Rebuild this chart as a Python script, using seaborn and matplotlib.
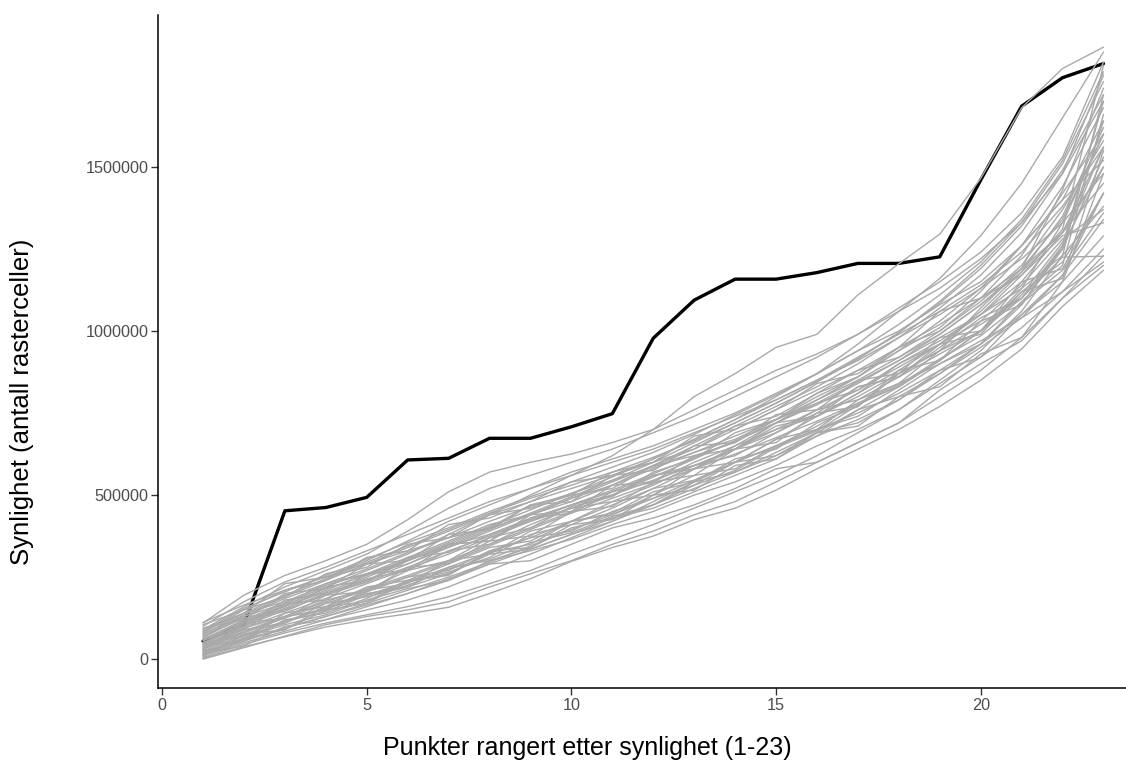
import numpy as np
import pandas as pd
import seaborn as sns
from matplotlib import pyplot as plt
from matplotlib.ticker import FuncFormatter

# rank of the 23 points
ranks = list(range(1, 24))

# observed visibility (black line)
observed = [55000, 105000, 452000, 462000, 493000, 607000, 612000, 673000, 673000, 708000,
            748000, 978000, 1094000, 1158000, 1158000, 1178000, 1206000, 1206000, 1226000,
            1460000, 1685000, 1772000, 1815000]

# simulated visibility, thousands of cells (grey lines)
sim_a = [110, 195, 255, 300, 350, 425, 510, 570, 600, 625, 660, 700, 760, 820, 880, 930, 990, 1060, 1130, 1220, 1330, 1480, 1700]
sim_b = [2, 38, 68, 98, 120, 138, 158, 200, 245, 298, 340, 375, 425, 460, 515, 580, 640, 700, 770, 850, 945, 1075, 1185]
sim_c = [60, 120, 170, 220, 270, 320, 380, 440, 500, 560, 620, 700, 800, 870, 950, 990, 1110, 1205, 1295, 1465, 1680, 1800, 1865]
sim_d = [40, 95, 140, 185, 230, 275, 320, 370, 420, 460, 500, 545, 590, 640, 700, 760, 820, 890, 960, 1050, 1150, 1300, 1560]
sim_e = [20, 70, 130, 150, 210, 230, 300, 320, 390, 420, 480, 500, 580, 600, 670, 700, 790, 840, 940, 1000, 1120, 1210, 1420]
sim_f = [80, 150, 210, 250, 300, 360, 420, 470, 520, 570, 610, 650, 700, 750, 810, 870, 940, 1000, 1080, 1150, 1260, 1400, 1640]
sim_g = [10, 50, 85, 120, 150, 180, 220, 270, 320, 370, 420, 480, 540, 600, 670, 740, 810, 880, 960, 1060, 1180, 1350, 1620]
sim_h = [50, 110, 160, 210, 260, 300, 350, 400, 440, 480, 530, 590, 650, 710, 770, 830, 900, 980, 1070, 1170, 1300, 1480, 1780]
sim_i = [30, 80, 125, 170, 210, 250, 295, 345, 395, 445, 490, 535, 580, 625, 675, 725, 780, 840, 900, 970, 1040, 1120, 1210]
sim_j = [70, 135, 190, 240, 290, 340, 390, 440, 480, 520, 560, 610, 670, 730, 790, 850, 920, 990, 1060, 1140, 1240, 1380, 1560]
sim_k = [15, 60, 90, 150, 170, 235, 260, 325, 350, 420, 445, 510, 540, 610, 640, 720, 770, 870, 940, 1070, 1190, 1430, 1740]
sim_l = [45, 105, 155, 200, 240, 290, 340, 390, 440, 490, 540, 590, 640, 700, 760, 820, 880, 950, 1020, 1100, 1190, 1300, 1450]
sim_m = [90, 160, 220, 270, 320, 390, 460, 520, 560, 600, 640, 690, 740, 800, 860, 920, 990, 1070, 1150, 1240, 1360, 1530, 1820]
sim_n = [5, 45, 80, 110, 135, 160, 190, 230, 270, 320, 365, 410, 460, 510, 560, 620, 690, 760, 840, 920, 1010, 1120, 1250]
sim_o = [35, 95, 130, 180, 210, 270, 300, 370, 400, 465, 495, 570, 610, 690, 730, 810, 860, 950, 1000, 1100, 1170, 1290, 1330]
sim_p = [25, 75, 115, 155, 195, 235, 280, 325, 370, 420, 470, 520, 580, 650, 720, 790, 860, 940, 1030, 1130, 1260, 1440, 1680]
sim_q = [100, 175, 235, 280, 330, 380, 430, 480, 520, 560, 600, 640, 690, 740, 790, 850, 910, 980, 1050, 1130, 1220, 1330, 1480]
sim_r = [55, 115, 165, 215, 255, 305, 355, 405, 455, 505, 555, 610, 670, 730, 800, 870, 960, 1060, 1160, 1290, 1450, 1650, 1850]
sim_s = [12, 55, 95, 130, 170, 210, 250, 295, 345, 395, 440, 490, 545, 600, 650, 700, 750, 810, 880, 960, 1050, 1170, 1340]
sim_t = [65, 130, 185, 230, 275, 325, 370, 420, 465, 505, 545, 585, 630, 680, 730, 790, 850, 920, 990, 1080, 1190, 1340, 1600]
sim_u = [40, 100, 150, 195, 235, 280, 330, 375, 425, 470, 515, 565, 615, 665, 720, 775, 840, 910, 990, 1080, 1180, 1300, 1500]
sim_v = [85, 155, 205, 255, 305, 355, 400, 450, 495, 540, 585, 630, 685, 745, 805, 870, 940, 1020, 1110, 1210, 1340, 1520, 1790]
sim_w = [22, 60, 115, 145, 195, 225, 275, 305, 355, 385, 435, 470, 530, 575, 645, 695, 775, 835, 915, 985, 1085, 1185, 1360]
sim_x = [48, 112, 162, 205, 250, 300, 345, 395, 445, 495, 545, 600, 660, 720, 780, 845, 915, 995, 1090, 1200, 1330, 1510, 1760]
sim_y = [30, 85, 130, 175, 215, 255, 300, 350, 400, 450, 500, 555, 610, 665, 720, 780, 845, 910, 980, 1050, 1130, 1230, 1380]
sim_z = [75, 140, 195, 245, 295, 345, 395, 445, 490, 530, 570, 615, 665, 720, 780, 845, 915, 995, 1085, 1190, 1320, 1490, 1720]
sim_aa = [95, 120, 200, 215, 290, 300, 380, 395, 470, 480, 560, 575, 650, 660, 745, 760, 850, 870, 980, 1000, 1150, 1190, 1420]
sim_ab = [8, 75, 90, 160, 175, 240, 255, 330, 340, 410, 425, 500, 515, 590, 610, 690, 710, 800, 830, 930, 980, 1150, 1290]
sim_ac = [60, 90, 170, 180, 260, 270, 350, 360, 440, 450, 530, 540, 620, 640, 720, 740, 830, 860, 960, 990, 1120, 1160, 1550]
sim_ad = [28, 110, 125, 195, 205, 280, 290, 360, 375, 450, 465, 540, 560, 640, 660, 750, 770, 880, 910, 1030, 1080, 1260, 1700]
sim_ae = [105, 150, 190, 260, 290, 330, 410, 430, 480, 540, 560, 600, 680, 700, 760, 840, 870, 950, 1060, 1100, 1230, 1420, 1600]
sim_af = [18, 40, 100, 120, 160, 200, 240, 290, 300, 350, 400, 430, 470, 520, 580, 600, 660, 720, 820, 900, 970, 1100, 1230]
sim_ag = [70, 125, 150, 220, 240, 300, 350, 360, 430, 470, 500, 560, 580, 640, 690, 750, 830, 860, 950, 1040, 1100, 1260, 1500]
sim_ah = [38, 60, 140, 160, 220, 240, 290, 340, 360, 420, 440, 500, 560, 580, 650, 700, 740, 820, 900, 960, 1090, 1200, 1660]
sim_ai = [85, 140, 230, 250, 280, 350, 370, 400, 470, 500, 520, 590, 620, 660, 730, 780, 820, 900, 970, 1050, 1170, 1310, 1810]
sim_aj = [50, 70, 110, 170, 190, 220, 280, 300, 340, 400, 430, 470, 540, 570, 620, 690, 720, 790, 880, 920, 1050, 1150, 1480]
sim_ak = [0, 35, 70, 105, 130, 150, 175, 220, 260, 300, 350, 390, 440, 480, 540, 600, 660, 720, 800, 880, 980, 1100, 1200]
sim_al = [62, 100, 180, 200, 235, 310, 325, 380, 430, 445, 510, 560, 590, 640, 710, 740, 800, 870, 940, 1020, 1100, 1250, 1640]
sim_am = [112, 165, 210, 240, 310, 330, 370, 440, 460, 500, 570, 600, 640, 710, 740, 810, 880, 920, 1000, 1090, 1200, 1370, 1580]
sim_an = [33, 90, 110, 160, 200, 220, 260, 320, 335, 380, 430, 460, 510, 560, 610, 680, 730, 790, 870, 950, 1040, 1170, 1420]
sim_ao = [45, 80, 130, 150, 205, 250, 270, 330, 370, 390, 450, 490, 530, 600, 620, 680, 760, 800, 870, 960, 1080, 1250, 1530]
sim_ap = [78, 130, 170, 230, 260, 290, 345, 380, 420, 470, 510, 540, 600, 650, 700, 740, 810, 900, 960, 1030, 1140, 1280, 1370]
sim_aq = [14, 65, 105, 135, 180, 215, 240, 300, 330, 365, 410, 450, 500, 540, 590, 650, 700, 760, 850, 940, 1060, 1230, 1720]
sim_ar = [57, 118, 145, 200, 245, 270, 330, 350, 410, 460, 480, 530, 590, 620, 690, 760, 790, 860, 930, 1000, 1130, 1330, 1600]
sim_as = [92, 140, 175, 225, 260, 310, 360, 410, 440, 490, 530, 580, 630, 670, 730, 800, 860, 940, 1010, 1120, 1260, 1400, 1520]
sim_at = [25, 55, 120, 140, 185, 240, 265, 310, 380, 410, 460, 520, 545, 600, 650, 710, 780, 830, 910, 1000, 1110, 1270, 1560]
sim_au = [20, 60, 95, 130, 165, 200, 245, 290, 335, 380, 420, 470, 520, 570, 630, 690, 760, 830, 910, 1000, 1100, 1225, 1228]

sims = [sim_a, sim_b, sim_c, sim_d, sim_e, sim_f, sim_g, sim_h, sim_i, sim_j, sim_k, sim_l, sim_m,
        sim_n, sim_o, sim_p, sim_q, sim_r, sim_s, sim_t, sim_u, sim_v, sim_w, sim_x, sim_y, sim_z,
        sim_aa, sim_ab, sim_ac, sim_ad, sim_ae, sim_af, sim_ag, sim_ah, sim_ai, sim_aj, sim_ak,
        sim_al, sim_am, sim_an, sim_ao, sim_ap, sim_aq, sim_ar, sim_as, sim_at, sim_au]

rows = []
for run, sim in enumerate(sims):
    for r, v in zip(ranks, sim):
        rows.append({"rank": r, "value": v * 1000, "run": run})
sim_df = pd.DataFrame(rows)
obs_df = pd.DataFrame({"rank": ranks, "value": observed})

sns.set_style("white")
plt.rcParams["font.family"] = ["Liberation Sans", "DejaVu Sans"]

fig = plt.figure(figsize=(11.26, 7.63), dpi=100)
ax = fig.add_axes([158 / 1126, 75 / 763, 968 / 1126, 673 / 763])

# black line under the grey ones, as in the original
sns.lineplot(data=obs_df, x="rank", y="value", color="black", lw=2.4, ax=ax, zorder=1)
sns.lineplot(data=sim_df, x="rank", y="value", units="run", estimator=None,
             color="#A9A9A9", lw=1.0, ax=ax, zorder=2)

ax.set_xlim(-0.1, 23.55)
ax.set_ylim(-88000, 1963000)
ax.set_xticks([0, 5, 10, 15, 20])
ax.set_yticks([0, 500000, 1000000, 1500000])
ax.yaxis.set_major_formatter(FuncFormatter(lambda v, p: f"{int(v)}"))

sns.despine(ax=ax)
for side in ["left", "bottom"]:
    ax.spines[side].set_color("black")
    ax.spines[side].set_linewidth(1.1)
ax.tick_params(axis="both", direction="out", length=5, width=1.0, color="#333333",
               labelsize=11.7, labelcolor="#4D4D4D", pad=2, left=True, bottom=True)

ax.set_xlabel("Punkter rangert etter synlighet (1-23)", fontsize=18, color="black")
ax.set_ylabel("Synlighet (antall rasterceller)", fontsize=18.5, color="black")
ax.xaxis.set_label_coords(0.444, -0.071)
ax.yaxis.set_label_coords(-0.128, 0.425)

fig.savefig("out.png", dpi=100)
plt.close(fig)
